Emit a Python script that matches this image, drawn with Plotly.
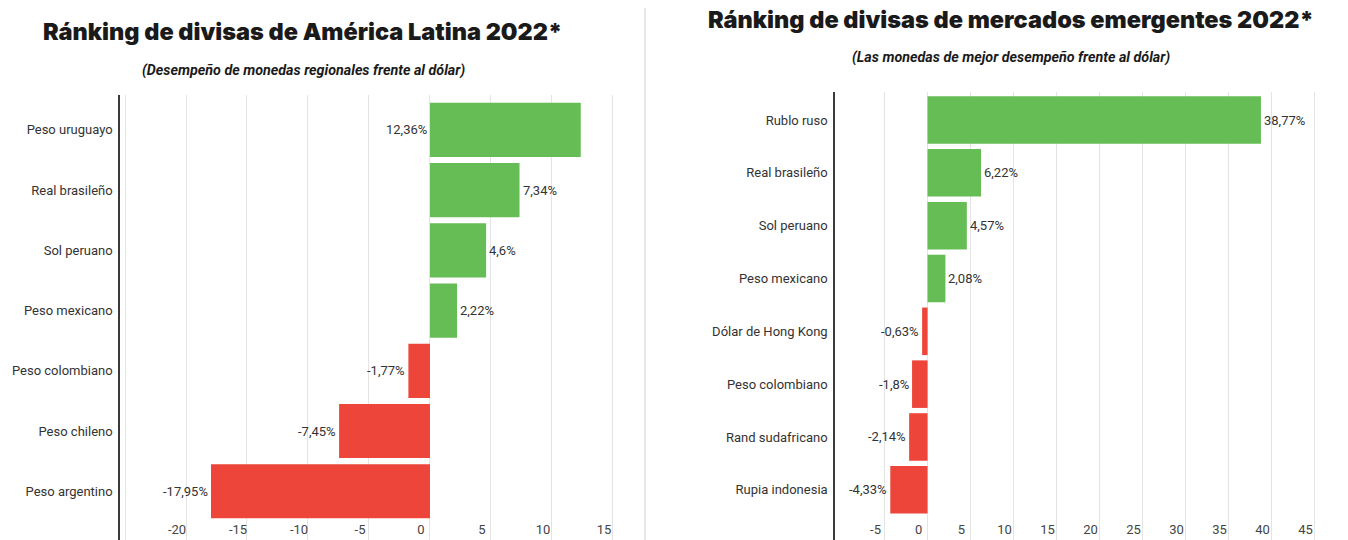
import plotly.graph_objects as go

# Latin America currency performance vs USD, 2022 (%)
latam_currencies = ["Peso uruguayo", "Real brasileño", "Sol peruano", "Peso mexicano",
                    "Peso colombiano", "Peso chileno", "Peso argentino"]
latam_values = [12.36, 7.34, 4.6, 2.22, -1.77, -7.45, -17.95]
latam_ticks = [-25, -20, -15, -10, -5, 0, 5, 10, 15]
latam_ticktext = ["", "-20", "-15", "-10", "-5", "0", "5", "10", "15"]

# Emerging-market currency performance vs USD, 2022 (%)
em_currencies = ["Rublo ruso", "Real brasileño", "Sol peruano", "Peso mexicano",
                 "Dólar de Hong Kong", "Peso colombiano", "Rand sudafricano", "Rupia indonesia"]
em_values = [38.77, 6.22, 4.57, 2.08, -0.63, -1.8, -2.14, -4.33]
em_ticks = [-5, 0, 5, 10, 15, 20, 25, 30, 35, 40, 45]
em_ticktext = ["-5", "0", "5", "10", "15", "20", "25", "30", "35", "40", "45"]

GREEN = "#67bd55"
RED = "#ed4539"
TEXT = "#333333"
GRID = "#e4e4e4"
FONT = "Roboto"
TITLE_FONT = "Inter"

W, H = 1348, 540


def fmt(v):
    return f"{v}".replace(".", ",") + "%"


def px_x(p):
    return p / W


def px_y(p):
    return 1 - p / H


fig = go.Figure()

fig.add_trace(go.Bar(
    x=latam_values, y=latam_currencies, orientation="h",
    marker=dict(color=[GREEN if v >= 0 else RED for v in latam_values], line=dict(width=0)),
    xaxis="x", yaxis="y", hoverinfo="x+y", showlegend=False,
))
fig.add_trace(go.Bar(
    x=em_values, y=em_currencies, orientation="h",
    marker=dict(color=[GREEN if v >= 0 else RED for v in em_values], line=dict(width=0)),
    xaxis="x2", yaxis="y2", hoverinfo="x+y", showlegend=False,
))

annotations = []
# value labels beside each bar
for name, v in zip(latam_currencies, latam_values):
    if v == max(latam_values):
        # the longest bar carries its label at the base, left of zero
        annotations.append(dict(x=0, y=name, xref="x", yref="y", text=fmt(v),
                                xanchor="right", showarrow=False, xshift=-1,
                                font=dict(family=FONT, size=13, color=TEXT)))
    else:
        annotations.append(dict(x=v, y=name, xref="x", yref="y", text=fmt(v),
                                xanchor="left" if v >= 0 else "right", showarrow=False,
                                xshift=1 if v >= 0 else -1,
                                font=dict(family=FONT, size=13, color=TEXT)))
for name, v in zip(em_currencies, em_values):
    annotations.append(dict(x=v, y=name, xref="x2", yref="y2", text=fmt(v),
                            xanchor="left" if v >= 0 else "right", showarrow=False,
                            xshift=1 if v >= 0 else -1,
                            font=dict(family=FONT, size=13, color=TEXT)))

# titles and subtitles
annotations += [
    dict(x=px_x(302), y=px_y(32), xref="paper", yref="paper", showarrow=False,
         text="Ránking de divisas de América Latina 2022*",
         font=dict(family=TITLE_FONT, size=23.5, color="#1a1a1a", weight=900),
         xanchor="center", yanchor="middle"),
    dict(x=px_x(1011), y=px_y(20), xref="paper", yref="paper", showarrow=False,
         text="Ránking de divisas de mercados emergentes 2022*",
         font=dict(family=TITLE_FONT, size=23.5, color="#1a1a1a", weight=900),
         xanchor="center", yanchor="middle"),
    dict(x=px_x(303), y=px_y(70), xref="paper", yref="paper", showarrow=False,
         text="<b><i>(Desempeño de monedas regionales frente al dólar)</i></b>",
         font=dict(family=FONT, size=14.3, color="#1a1a1a"),
         xanchor="center", yanchor="middle"),
    dict(x=px_x(1011), y=px_y(58), xref="paper", yref="paper", showarrow=False,
         text="<b><i>(Las monedas de mejor desempeño frente al dólar)</i></b>",
         font=dict(family=FONT, size=14.3, color="#1a1a1a"),
         xanchor="center", yanchor="middle"),
]

# thin divider between the two panels
shapes = [dict(type="line", xref="paper", yref="paper",
               x0=px_x(645), x1=px_x(645), y0=0, y1=px_y(8),
               line=dict(color="#cfcfcf", width=1))]

xcommon = dict(showline=False, zeroline=False, showgrid=True, gridcolor=GRID, gridwidth=1,
               ticks="", ticklabelposition="inside", ticklabelshift=-9,
               tickfont=dict(family=FONT, size=13, color="#444444"), fixedrange=True)
ycommon = dict(showline=True, linecolor="#3a3a3a", linewidth=1.5, showgrid=False,
               zeroline=False, ticks="", ticklabelstandoff=3,
               tickfont=dict(family=FONT, size=13, color=TEXT), fixedrange=True)

fig.update_layout(
    width=W, height=H,
    margin=dict(l=0, r=0, t=0, b=0),
    paper_bgcolor="white", plot_bgcolor="white",
    bargap=0.1,
    xaxis=dict(domain=[px_x(120), px_x(632)], range=[-25.41, 16.56],
               tickvals=latam_ticks, ticktext=latam_ticktext, anchor="y", **xcommon),
    yaxis=dict(domain=[0, px_y(95)], range=[6.81, -0.58], anchor="x",
               categoryorder="array", categoryarray=latam_currencies, **ycommon),
    xaxis2=dict(domain=[px_x(835), px_x(1335)], range=[-10.76, 47.38],
                tickvals=em_ticks, ticktext=em_ticktext, anchor="y2", **xcommon),
    yaxis2=dict(domain=[0, px_y(92)], range=[7.95, -0.53], anchor="x2",
                categoryorder="array", categoryarray=em_currencies, **ycommon),
    annotations=annotations,
    shapes=shapes,
)

fig.write_html("out.html")
